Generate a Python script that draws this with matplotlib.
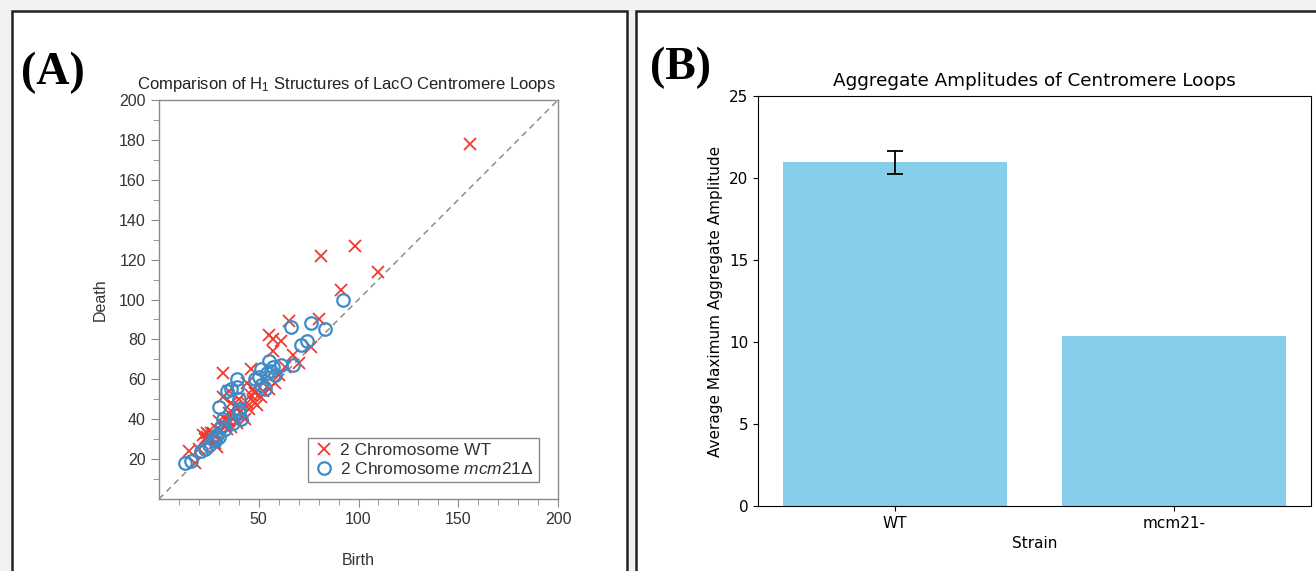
import matplotlib
matplotlib.use("Agg")
import matplotlib.pyplot as plt
from matplotlib.patches import Rectangle
import numpy as np

plt.rcParams["mathtext.fontset"] = "custom"
plt.rcParams["mathtext.rm"] = "Liberation Sans"
plt.rcParams["mathtext.it"] = "Liberation Sans:italic"

# ---------------- Data ----------------
# Panel A: persistence (birth, death) of H1 structures
wt_birth = [156, 98, 81, 110, 91, 80, 65, 55, 57, 61, 57, 67, 76, 70, 32, 46, 44, 48, 51, 55,
            35, 32, 45, 49, 35, 30, 34, 22, 23, 24, 25, 26, 29, 15, 18, 37, 39, 42, 38, 40,
            36, 60, 63, 53, 31, 27, 33, 28, 36, 41, 47, 58, 20, 43, 52,
            24, 25, 26, 35, 37, 29, 33, 46, 47, 44]
wt_death = [178, 127, 122, 114, 105, 90, 89, 82, 80, 79, 74, 72, 76, 68, 63, 65, 58, 53, 51, 55,
            54, 51, 45, 47, 43, 39, 35, 32, 30, 31, 29, 30, 26, 24, 18, 40, 38, 42, 46, 50,
            48, 62, 66, 60, 34, 33, 37, 28, 36, 44, 49, 58, 25, 40, 54,
            33, 32, 33, 39, 43, 35, 40, 52, 55, 48]

mcm_birth = [92, 66, 76, 83, 71, 74, 55, 57, 61, 67, 51, 56, 58, 50, 53, 39, 36, 34, 48, 51,
             39, 40, 30, 40, 40, 41, 32, 31, 27, 28, 25, 23, 21, 13, 16, 29, 33, 37, 30, 54]
mcm_death = [100, 86, 88, 85, 77, 79, 69, 66, 67, 67, 65, 64, 62, 61, 55, 60, 55, 54, 60, 57,
             56, 50, 46, 45, 43, 40, 40, 36, 30, 29, 27, 25, 24, 18, 19, 32, 35, 38, 31, 63]

# Panel B: aggregate amplitudes
strains = ["WT", "mcm21-"]
amplitudes = [20.95, 10.35]
amp_err = [0.7, 0.0]

# ---------------- Figure ----------------
W, H = 1316, 571
fig = plt.figure(figsize=(W / 100, H / 100), dpi=100, facecolor="#f2f2f2")

def fx(px):
    return px / W

def fy(py):
    return 1 - py / H

# panel frames (behind the axes)
fig.patches.append(Rectangle((fx(12), fy(590)), fx(627) - fx(12), fy(11) - fy(590),
                             transform=fig.transFigure, facecolor="white",
                             edgecolor="#222222", lw=1.8, zorder=-5))
fig.patches.append(Rectangle((fx(636), fy(590)), fx(1340) - fx(636), fy(11) - fy(590),
                             transform=fig.transFigure, facecolor="white",
                             edgecolor="#222222", lw=1.8, zorder=-5))

serif_bold = dict(family="Liberation Serif", fontweight="bold", fontsize=33)
fig.text(fx(21), fy(84), "(A)", ha="left", va="baseline", **serif_bold)
fig.text(fx(650), fy(79), "(B)", ha="left", va="baseline", **serif_bold)

# ---------------- Panel A ----------------
sans = "Liberation Sans"
axA = fig.add_axes([fx(159), fy(499), fx(558) - fx(159), fy(100) - fy(499)])
axA.set_facecolor("white")
gridc = "#8a8a8a"
axA.plot([0, 200], [0, 200], ls=(0, (4, 3)), color="#8c8c8c", lw=1.1, zorder=1)
axA.plot(wt_birth, wt_death, ls="none", marker="x", ms=9, mew=1.3, color="#ee3a30",
         label="2 Chromosome WT", zorder=3)
axA.plot(mcm_birth, mcm_death, ls="none", marker="o", ms=9, mew=1.6, mfc="none",
         mec="#3d8bc7", label="2 Chromosome $\\mathit{mcm21\\Delta}$", zorder=4)
axA.set_xlim(0, 200)
axA.set_ylim(0, 200)
axA.set_xticks([50, 100, 150, 200])
axA.set_yticks(np.arange(20, 201, 20))
axA.set_xticks([v for v in range(10, 200, 10) if v % 50 != 0], minor=True)
axA.set_yticks([v for v in range(10, 200, 20)], minor=True)
for s in axA.spines.values():
    s.set_color(gridc)
    s.set_linewidth(1.0)
axA.tick_params(which="both", direction="out", color=gridc, labelcolor="#333333",
                labelsize=11.5)
axA.tick_params(which="major", length=6)
axA.tick_params(which="minor", length=4)
for lab in axA.get_xticklabels() + axA.get_yticklabels():
    lab.set_family(sans)
axA.set_title("Comparison of H$_1$ Structures of LacO Centromere Loops",
              fontsize=12, family=sans, color="#222222", pad=8, x=0.47)
axA.set_ylabel("Death", fontsize=11.5, family=sans, color="#333333", labelpad=8)
fig.text(fx(358), fy(553), "Birth", ha="center", va="top", fontsize=11.5,
         family=sans, color="#333333")
leg = axA.legend(loc="lower right", bbox_to_anchor=(0.995, 0.0), borderaxespad=1.0,
                 fancybox=False, framealpha=1, edgecolor=gridc,
                 prop=dict(family=sans, size=12.5), handletextpad=0.35,
                 borderpad=0.28, labelspacing=0.15, handlelength=1.2)
for t in leg.get_texts():
    t.set_color("#333333")

# ---------------- Panel B ----------------
axB = fig.add_axes([fx(758), fy(506), fx(1311) - fx(758), fy(96) - fy(506)])
axB.set_facecolor("white")
xpos = np.arange(len(strains))
axB.bar(xpos, amplitudes, width=0.8, color="skyblue")
axB.errorbar(xpos[:1], amplitudes[:1], yerr=amp_err[:1], fmt="none", ecolor="black",
             capsize=6, elinewidth=1.3, capthick=1.3)
axB.set_xticks(xpos)
axB.set_xticklabels(strains)
axB.set_xlim(-0.49, 1.49)
axB.set_ylim(0, 25)
axB.set_yticks([0, 5, 10, 15, 20, 25])
axB.tick_params(labelsize=11)
axB.set_title("Aggregate Amplitudes of Centromere Loops", fontsize=13.2, pad=7)
axB.set_xlabel("Strain", fontsize=11)
axB.set_ylabel("Average Maximum Aggregate Amplitude", fontsize=11)

fig.savefig("out.png", dpi=100, facecolor=fig.get_facecolor())
